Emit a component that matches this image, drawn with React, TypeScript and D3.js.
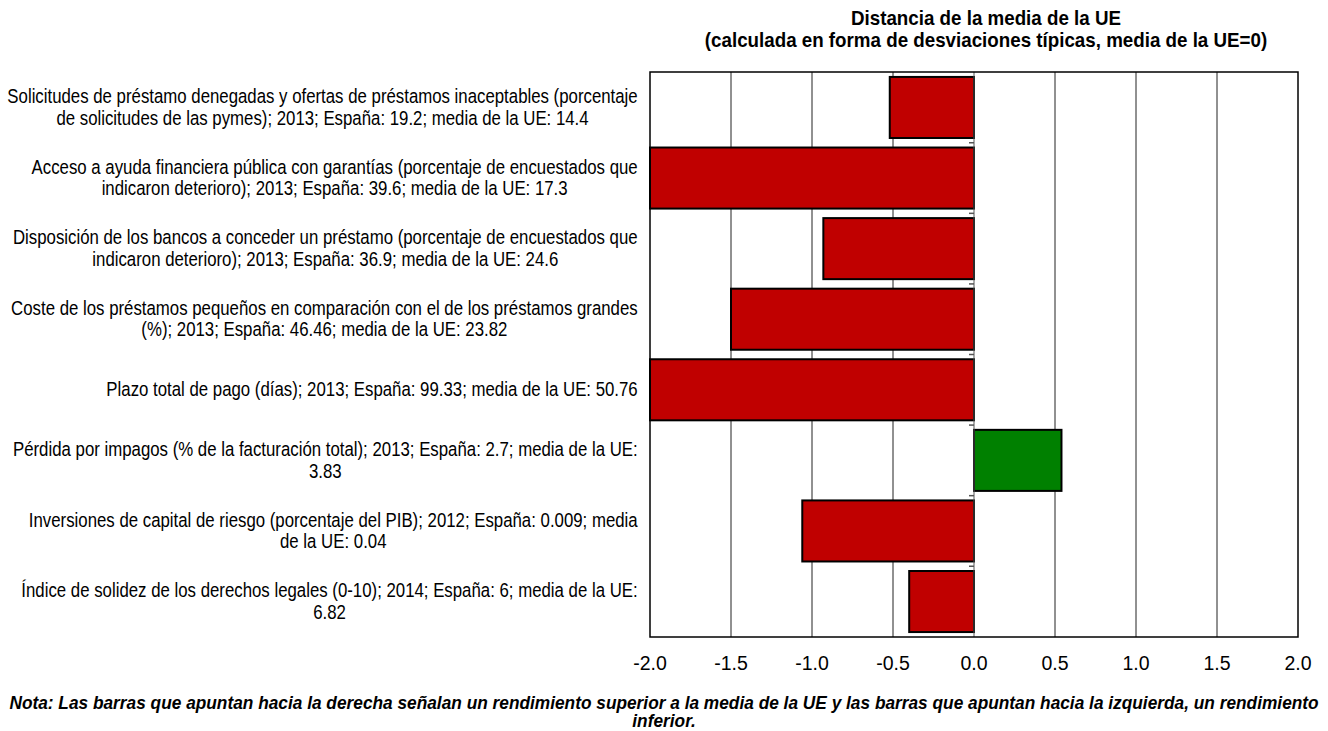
import React, { useMemo } from 'react';
import * as d3 from 'd3';

const categories: string[][] = [
  ['Solicitudes de préstamo denegadas y ofertas de préstamos inaceptables (porcentaje', 'de solicitudes de las pymes); 2013; España: 19.2; media de la UE: 14.4'],
  ['Acceso a ayuda financiera pública con garantías (porcentaje de encuestados que', 'indicaron deterioro); 2013; España: 39.6; media de la UE: 17.3'],
  ['Disposición de los bancos a conceder un préstamo (porcentaje de encuestados que', 'indicaron deterioro); 2013; España: 36.9; media de la UE: 24.6'],
  ['Coste de los préstamos pequeños en comparación con el de los préstamos grandes', '(%); 2013; España: 46.46; media de la UE: 23.82'],
  ['Plazo total de pago (días); 2013; España: 99.33; media de la UE: 50.76'],
  ['Pérdida por impagos (% de la facturación total); 2013; España: 2.7; media de la UE:', '3.83'],
  ['Inversiones de capital de riesgo (porcentaje del PIB); 2012; España: 0.009; media', 'de la UE: 0.04'],
  ['Índice de solidez de los derechos legales (0-10); 2014; España: 6; media de la UE:', '6.82'],
];

const values: number[] = [-0.52, -2.3, -0.93, -1.5, -2.2, 0.54, -1.06, -0.4];

const tickValues: number[] = [-2, -1.5, -1, -0.5, 0, 0.5, 1, 1.5, 2];
const tickLabels: string[] = ['-2.0', '-1.5', '-1.0', '-0.5', '0.0', '0.5', '1.0', '1.5', '2.0'];

const titleLines: string[] = [
  'Distancia de la media de la UE',
  '(calculada en forma de desviaciones típicas, media de la UE=0)',
];

const noteLines: string[] = [
  'Nota: Las barras que apuntan hacia la derecha señalan un rendimiento superior a la media de la UE y las barras que apuntan hacia la izquierda, un rendimiento',
  'inferior.',
];

const W = 1328;
const H = 731;
const plot = { left: 650, right: 1298, top: 72, bottom: 637 };
const FONT = "'Liberation Sans', Arial, sans-serif";

let ctx: CanvasRenderingContext2D | null = null;
function measure(text: string, font: string): number {
  if (!ctx) ctx = document.createElement('canvas').getContext('2d');
  if (!ctx) return text.length * 7;
  ctx.font = font;
  return ctx.measureText(text).width;
}

export default function App() {
  const x = d3.scaleLinear().domain([-2, 2]).range([plot.left, plot.right]).clamp(true);
  const y = d3
    .scaleBand<number>()
    .domain(d3.range(categories.length))
    .range([plot.top, plot.bottom])
    .paddingInner(0.135)
    .paddingOuter(0.07);

  const LABEL_SIZE = 19.5;
  const TITLE_SIZE = 20;
  const NOTE_SIZE = 18;
  const labelFont = `${LABEL_SIZE}px ${FONT}`;
  const titleFont = `bold ${TITLE_SIZE}px ${FONT}`;
  const noteFont = `italic bold ${NOTE_SIZE}px ${FONT}`;

  const sx = useMemo(() => 631 / measure(categories[0][0], labelFont), []);
  const sxTitle = useMemo(() => 563 / measure(titleLines[1], titleFont), []);
  const sxNote = useMemo(() => 1310 / measure(noteLines[0], noteFont), []);

  return (
    <svg
      width={W}
      height={H}
      style={{ position: 'absolute', left: 0, top: 0, background: '#fff' }}
      fontFamily={FONT}
    >
      <rect x={0} y={0} width={W} height={H} fill="#fff" />
      {titleLines.map((t, i) => (
        <text
          key={i}
          transform={`translate(986,${25 + i * 22}) scale(${sxTitle},1)`}
          textAnchor="middle"
          fontWeight="bold"
          fontSize={TITLE_SIZE}
          fill="#000"
        >
          {t}
        </text>
      ))}

      {tickValues
        .filter((t) => t !== 0 && t !== -2 && t !== 2)
        .map((t) => (
          <line key={t} x1={x(t)} x2={x(t)} y1={plot.top} y2={plot.bottom} stroke="#222" strokeWidth={1} />
        ))}

      {values.map((v, i) => {
        const x0 = x(Math.min(0, v));
        const x1 = x(Math.max(0, v));
        return (
          <rect
            key={i}
            x={x0}
            y={y(i)!}
            width={x1 - x0}
            height={y.bandwidth()}
            fill={v >= 0 ? '#008000' : '#C00000'}
            stroke="#000"
            strokeWidth={2}
          />
        );
      })}

      <line x1={x(0)} x2={x(0)} y1={plot.top} y2={plot.bottom} stroke="#555" strokeWidth={1} />
      {d3.range(1, categories.length).map((i) => {
        const yy = (y(i - 1)! + y.bandwidth() + y(i)!) / 2;
        return <line key={i} x1={x(0)} x2={x(0) - 5} y1={yy} y2={yy} stroke="#555" strokeWidth={1.5} />;
      })}

      <rect
        x={plot.left}
        y={plot.top}
        width={plot.right - plot.left}
        height={plot.bottom - plot.top}
        fill="none"
        stroke="#000"
        strokeWidth={1.5}
      />

      {tickValues.map((t, i) => (
        <text key={t} x={x(t)} y={670} textAnchor="middle" fontSize={19.5} fill="#000">
          {tickLabels[i]}
        </text>
      ))}

      {categories.map((lines, i) => {
        const widths = lines.map((l) => measure(l, labelFont) * sx);
        const maxW = Math.max(...widths);
        const cx = 638 - maxW / 2;
        const cy = y(i)! + y.bandwidth() / 2;
        const lh = 21.5;
        const startY = cy - ((lines.length - 1) * lh) / 2;
        return lines.map((l, j) => (
          <text
            key={`${i}-${j}`}
            transform={`translate(${cx},${startY + j * lh + 6.5}) scale(${sx},1)`}
            textAnchor="middle"
            fontSize={LABEL_SIZE}
            fill="#000"
          >
            {l}
          </text>
        ));
      })}

      {noteLines.map((t, i) => (
        <text
          key={i}
          transform={`translate(664,${709 + i * 18}) scale(${sxNote},1)`}
          textAnchor="middle"
          fontWeight="bold"
          fontStyle="italic"
          fontSize={NOTE_SIZE}
          fill="#000"
        >
          {t}
        </text>
      ))}
    </svg>
  );
}
